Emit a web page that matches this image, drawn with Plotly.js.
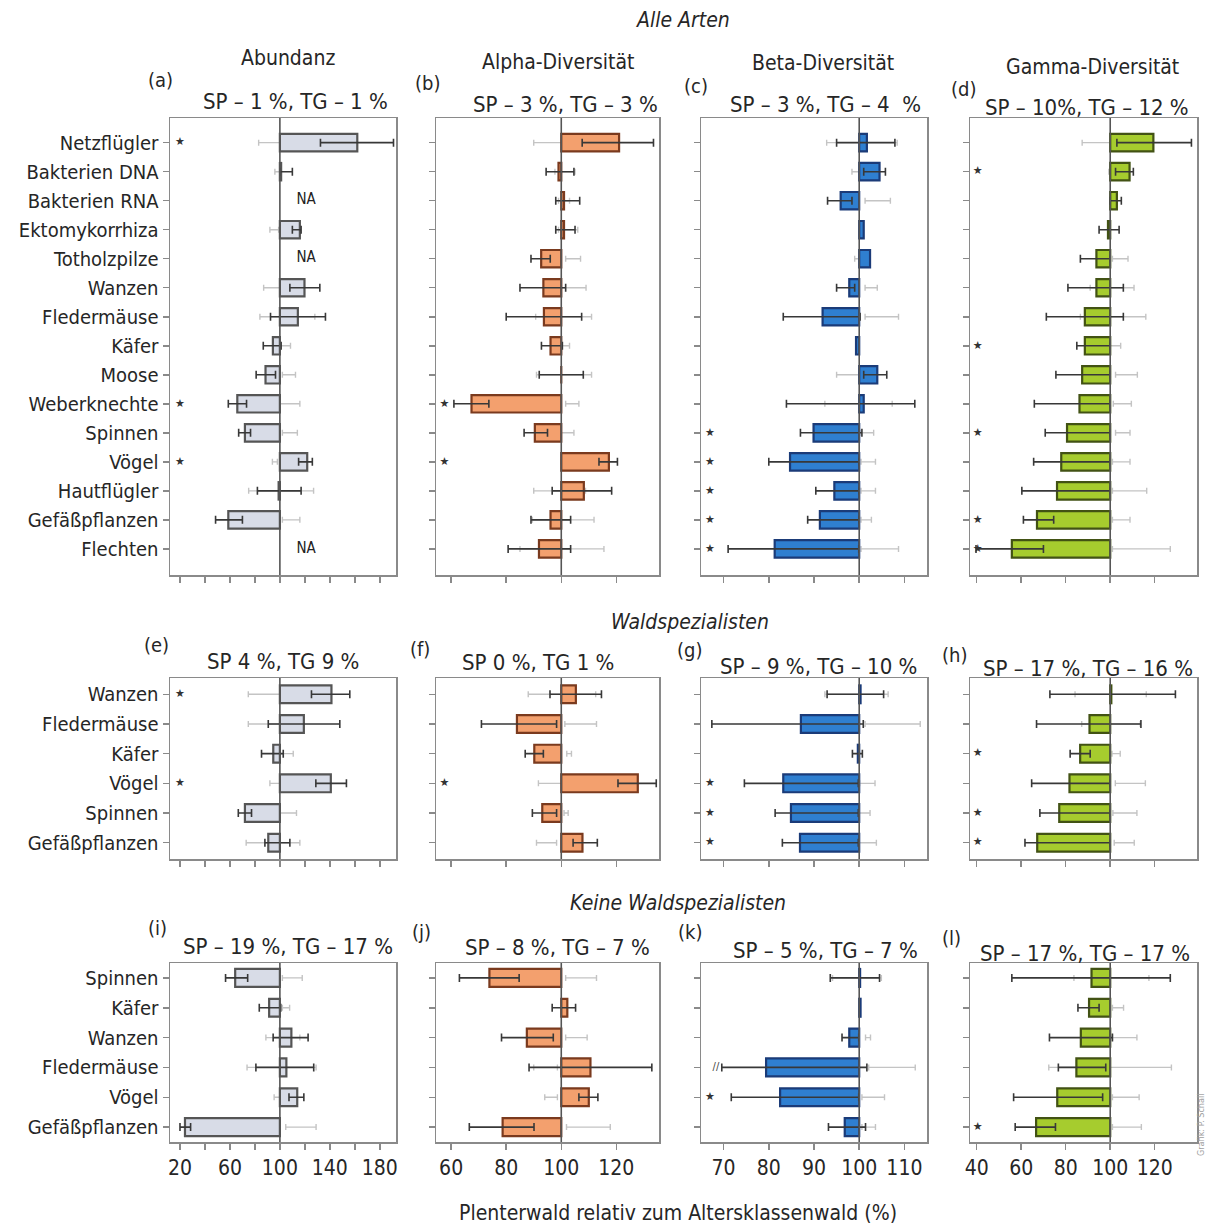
<!DOCTYPE html>
<html><head><meta charset="utf-8">
<script src="https://cdn.plot.ly/plotly-3.0.1.min.js"></script>
<style>html,body{margin:0;padding:0;background:#fff}</style>
</head><body><div id="chart" style="width:1207px;height:1230px"></div>
<script>
// ---------- categories ----------
const catsAll = ['Netzflügler','Bakterien DNA','Bakterien RNA','Ektomykorrhiza','Totholzpilze','Wanzen','Fledermäuse','Käfer','Moose','Weberknechte','Spinnen','Vögel','Hautflügler','Gefäßpflanzen','Flechten'];
const catsSpez = ['Wanzen','Fledermäuse','Käfer','Vögel','Spinnen','Gefäßpflanzen'];
const catsKeine = ['Spinnen','Käfer','Wanzen','Fledermäuse','Vögel','Gefäßpflanzen'];

// ---------- (a) Abundanz, alle Arten ----------
const a_val = [162, 101, null, 116, null, 119.7, 114.4, 94.4, 88.5, 65.9, 72, 121.9, 99, 58.7, null];
const a_lo  = [132.5, 100, null, 110, null, 108, 92.5, 86.7, 81, 58.7, 67, 115, 82, 48.5, null];
const a_hi  = [191, 110, null, 117, null, 132, 136.5, 101, 96.5, 73.3, 76.5, 126, 117, 70, null];
const a_glo = [83, 96, null, 92, null, 87, 84, 100, 102, 100, 102, 94, 75, 102, null];
const a_ghi = [103, 100, null, 99, null, 102, 128, 108.5, 112.5, 116, 114, 98, 127, 116, null];
const a_star = [1,0,0,0,0,0,0,0,0,1,0,1,0,0,0];
// ---------- (b) Alpha ----------
const b_val = [121, 99, 101, 101, 92.7, 93.5, 93.7, 96.1, 100, 67.4, 90.4, 117.3, 108.2, 96.1, 91.9];
const b_lo  = [107.6, 94.5, 98, 98, 89, 85, 80, 92.8, 92, 61, 86.5, 113.7, 96.7, 89, 80.7];
const b_hi  = [133.5, 104.6, 106.7, 105, 96, 101.6, 107.4, 100.4, 108, 73.7, 95, 120.4, 118.3, 103.4, 103.4];
const b_glo = [90, 97.7, 99, 99, 101.6, 99, 90.7, 100, 91, 101.6, 100, 100, 90, 89.5, 85];
const b_ghi = [101.6, 105, 103, 106, 107, 109, 111, 103, 111, 106.4, 104.6, 104.6, 108.8, 111.9, 115.5];
const b_star = [0,0,0,0,0,0,0,0,0,1,0,1,0,0,0];
// ---------- (c) Beta ----------
const c_val = [101.7, 104.5, 95.9, 101, 102.4, 97.8, 91.9, 99.3, 104, 101, 89.9, 84.7, 94.5, 91.3, 81.3];
const c_lo  = [95, 101, 93, null, null, 95, 83.2, null, 101, 83.9, 87, 80, 90.4, 88.6, 71];
const c_hi  = [107.9, 105.8, 98.4, null, null, 99, 100.2, null, 106.1, 112.3, 100.6, 100, 100, 100, 99.9];
const c_glo = [92.8, 98.4, 101.3, null, 99, 101.3, 101.3, null, 95, 92.4, 100.4, 100.4, 100.4, 100.4, 100.4];
const c_ghi = [108.4, 99.9, 106.9, null, 100, 104, 108.7, null, 99.9, 107.3, 103.2, 103.6, 103.6, 102.7, 108.7];
const c_star = [0,0,0,0,0,0,0,0,0,0,1,1,1,1,1];
// ---------- (d) Gamma ----------
const d_val = [119.4, 108.7, 103, 99, 93.8, 93.8, 88.6, 88.6, 87.4, 86.2, 80.6, 78, 76.1, 67.1, 55.8];
const d_lo  = [103, 102.4, 100, 95, 86.6, 81, 71.3, 85, 75.6, 65.9, 70.8, 65.6, 60.3, 61, 39.7];
const d_hi  = [136.5, 110.4, 105, 104, 100, 105.9, 105.9, 100, 100, 100, 100, 100, 100, 74.6, 70];
const d_glo = [87.4, 99.4, null, null, 101, 91, 86.6, 100, 102.4, 101.4, 102.4, 101, 101, 101, 101];
const d_ghi = [103, 103, null, null, 108, 110.7, 116, 104.7, 112.2, 109.5, 108.9, 108.9, 116.4, 108.9, 127];
const d_star = [0,1,0,0,0,0,0,1,0,0,1,0,0,1,1];
// ---------- (e)-(h) Waldspezialisten ----------
const e_val = [141.3, 119.2, 94.7, 140.8, 72, 90.7];
const e_lo  = [125.3, 90.7, 85.3, 128.8, 66.7, 88];
const e_hi  = [156, 148, 102.7, 153.3, 77.3, 108];
const e_glo = [74.7, 74.7, 100, 92, 100, 73];
const e_ghi = [105.3, 116, 110.7, 102.7, 113.3, 116];
const e_star = [1,0,0,1,0,0];
const f_val = [105.3, 83.9, 90.2, 127.8, 93.1, 107.7];
const f_lo  = [95.9, 71, 86.9, 120.6, 89.5, 104.3];
const f_hi  = [114.6, 98.3, 93.5, 134.5, 98.3, 113.1];
const f_glo = [88, 101.3, 102, 91.7, 101, 91];
const f_ghi = [112.5, 112.8, 103.7, 100.7, 102.5, 98.3];
const f_star = [0,0,0,1,0,0];
const g_val = [100.3, 87.1, 99.7, 83.2, 84.9, 86.9];
const g_lo  = [92.9, 67.4, 98.5, 74.6, 81.4, 83];
const g_hi  = [105.4, 100.9, 100.7, 99.8, 99.8, 99.8];
const g_glo = [92.4, 101.3, null, 100.1, 100, 100];
const g_ghi = [106.4, 113.5, null, 103.5, 102.4, 103.8];
const g_star = [0,0,0,1,1,1];
const h_val = [100.5, 90.7, 86.5, 81.7, 77.1, 67.2];
const h_lo  = [72.9, 66.9, 82, 64.7, 68.4, 61.7];
const h_hi  = [129.3, 113.8, 91, 100, 100, 100];
const h_glo = [84.2, 87.2, 100.8, 102.3, 101.2, 101.8];
const h_ghi = [116.2, 113.5, 104.5, 115.8, 112, 110.8];
const h_star = [0,0,1,0,1,1];
// ---------- (i)-(l) Keine Waldspezialisten ----------
const i_val = [64.2, 91.4, 109.2, 105.2, 113.9, 24];
const i_lo  = [56.5, 83.5, 94.6, 80.8, 107.3, 20];
const i_hi  = [74.2, 100.7, 122.6, 127.1, 119.2, 28.5];
const i_glo = [102, 102, 88.8, 73.7, 95.4, 104.7];
const i_ghi = [117.9, 107.8, 116, 129, 101.5, 129];
const i_star = [0,0,0,0,0,0];
const j_val = [73.9, 102.2, 87.5, 110.6, 110, 78.7];
const j_lo  = [63, 96.7, 78.3, 88.3, 106.4, 66.6];
const j_hi  = [84.7, 105.2, 97.1, 132.9, 113.3, 90.1];
const j_glo = [101.6, null, 101.6, 90, 94, 101.9];
const j_ghi = [112.8, null, 109.4, 98.6, 98.6, 117.8];
const j_star = [0,0,0,0,0,0];
const k_val = [100.2, 100.3, 97.8, 79.4, 82.5, 96.8];
const k_lo  = [93.6, null, 96.2, 69.6, 71.7, 93.2];
const k_hi  = [104.5, null, 99.9, 101.7, 99.9, 101.4];
const k_glo = [94.1, null, 101.4, 102.1, 100.6, 100.6];
const k_ghi = [104.9, null, 102.5, 112.4, 105.6, 103.6];
const k_star = [0,0,0,0,1,0];
const l_val = [91.6, 90.5, 86.8, 84.8, 76.2, 66.7];
const l_lo  = [55.8, 85.5, 72.7, 76.7, 56.6, 57.3];
const l_hi  = [127, 95, 101, 98, 96.6, 75.4];
const l_glo = [83.7, 101, 101, 72.4, 101, 101];
const l_ghi = [117.4, 106, 112, 127.5, 113, 114];
const l_star = [0,0,0,0,0,1];

const subtitles = ['SP – 1 %, TG – 1 %','SP – 3 %, TG – 3 %','SP – 3 %, TG – 4  %','SP – 10%, TG – 12 %',
  'SP 4 %, TG 9 %','SP 0 %, TG 1 %','SP – 9 %, TG – 10 %','SP – 17 %, TG – 16 %',
  'SP – 19 %, TG – 17 %','SP – 8 %, TG – 7 %','SP – 5 %, TG – 7 %','SP – 17 %, TG – 17 %'];
const letters = ['(a)','(b)','(c)','(d)','(e)','(f)','(g)','(h)','(i)','(j)','(k)','(l)'];
const colHeads = ['Abundanz','Alpha-Diversität','Beta-Diversität','Gamma-Diversität'];
const rowHeads = ['Alle Arten','Waldspezialisten','Keine Waldspezialisten'];
const xTitle = 'Plenterwald relativ zum Altersklassenwald (%)';
const colTicks = [[20,40,60,80,100,120,140,160,180],[60,80,100,120],[70,80,90,100,110],[40,60,80,100,120]];
const colTickText = [['20','','60','','100','','140','','180'],['60','80','100','120'],['70','80','90','100','110'],['40','60','80','100','120']];

// ---------- layout geometry (pixels) ----------
const W = 1207, H = 1230;
const colX = [[170,396],[436,659],[701,927],[970,1197]];
const rowY = [[118,575],[678,859],[963,1142]];
const colRange = [[12,193],[54.5,135.5],[65,115],[37,139]];
const rowYRange = [[14.9,-0.85],[5.55,-0.55],[5.5,-0.5]];
const fills = ['#d8dce7','#f3a06e','#2f7fd0','#a6cc2e'];
const edges = ['#555555','#7a3a1e','#1b3b78','#425214'];
const starX = [20,57.6,67,40.5];
const FONT = "'Liberation Sans Narrow','DejaVu Sans Condensed','Arial Narrow',sans-serif";
const TXT = '#262626';

const panels = [
  [a_val,a_lo,a_hi,a_glo,a_ghi,a_star,catsAll],
  [b_val,b_lo,b_hi,b_glo,b_ghi,b_star,catsAll],
  [c_val,c_lo,c_hi,c_glo,c_ghi,c_star,catsAll],
  [d_val,d_lo,d_hi,d_glo,d_ghi,d_star,catsAll],
  [e_val,e_lo,e_hi,e_glo,e_ghi,e_star,catsSpez],
  [f_val,f_lo,f_hi,f_glo,f_ghi,f_star,catsSpez],
  [g_val,g_lo,g_hi,g_glo,g_ghi,g_star,catsSpez],
  [h_val,h_lo,h_hi,h_glo,h_ghi,h_star,catsSpez],
  [i_val,i_lo,i_hi,i_glo,i_ghi,i_star,catsKeine],
  [j_val,j_lo,j_hi,j_glo,j_ghi,j_star,catsKeine],
  [k_val,k_lo,k_hi,k_glo,k_ghi,k_star,catsKeine],
  [l_val,l_lo,l_hi,l_glo,l_ghi,l_star,catsKeine]
];

const px = x => x / W, py = y => 1 - y / H;
const traces = [], shapes = [], annotations = [];
const layout = {
  width: W, height: H, margin: {l:0,r:0,t:0,b:0}, paper_bgcolor:'#fff', plot_bgcolor:'#fff',
  showlegend:false, barmode:'overlay', font:{family:FONT, color:TXT}
};

panels.forEach((p, k) => {
  const [val, lo, hi, glo, ghi, star, cats] = p;
  const row = Math.floor(k / 4), col = k % 4, n = k + 1;
  const xa = 'x' + n, ya = 'y' + n;
  const idx = cats.map((_, i) => i);
  // light (ghost) whiskers, drawn first
  traces.push({
    type:'bar', orientation:'h', base:100, width:0.6, xaxis:xa, yaxis:ya,
    y: idx,
    x: idx.map(i => glo[i] == null ? null : (glo[i] + ghi[i]) / 2 - 100),
    marker:{color:'rgba(0,0,0,0)', line:{width:0}},
    error_x:{type:'data', symmetric:true, array: idx.map(i => glo[i] == null ? NaN : (ghi[i] - glo[i]) / 2),
      color:'#c4c4c4', thickness:1.4, width:3},
    hoverinfo:'skip'
  });
  // main bars with dark whiskers
  traces.push({
    type:'bar', orientation:'h', base:100, width:0.6, xaxis:xa, yaxis:ya,
    y: idx,
    x: val.map(v => v == null ? null : v - 100),
    marker:{color:fills[col], line:{color:edges[col], width:2.2}},
    error_x:{type:'data', symmetric:false,
      array: idx.map(i => (hi[i] == null || val[i] == null) ? NaN : hi[i] - val[i]),
      arrayminus: idx.map(i => (lo[i] == null || val[i] == null) ? NaN : val[i] - lo[i]),
      color:'#383838', thickness:1.6, width:4},
    hoverinfo:'skip'
  });
  // significance stars
  const sIdx = idx.filter(i => star[i]);
  if (sIdx.length) traces.push({
    type:'scatter', mode:'text', xaxis:xa, yaxis:ya, cliponaxis:false,
    x: sIdx.map(() => starX[col]), y: sIdx, text: sIdx.map(() => '★'),
    textfont:{size:11, color:'#333', family:'DejaVu Sans'}, hoverinfo:'skip'
  });
  // NA labels
  const naIdx = idx.filter(i => val[i] == null);
  if (naIdx.length) traces.push({
    type:'scatter', mode:'text', xaxis:xa, yaxis:ya,
    x: naIdx.map(() => 121), y: naIdx, text: naIdx.map(() => 'NA'),
    textfont:{size:15, color:'#222', family:FONT}, hoverinfo:'skip'
  });
  // reference line at 100
  shapes.push({type:'line', xref:xa, yref: ya + ' domain', x0:100, x1:100, y0:0, y1:1,
    line:{color:'#555', width:1.6}});
  layout['xaxis' + (n === 1 ? '' : n)] = {
    domain:[px(colX[col][0]), px(colX[col][1])], range:colRange[col], anchor:ya,
    showline:true, mirror:true, linecolor:'#8a8a8a', linewidth:1.5,
    ticks:'outside', ticklen:6, tickwidth:1.5, tickcolor:'#8a8a8a',
    tickmode:'array', tickvals:colTicks[col], ticktext:colTickText[col],
    showticklabels: row === 2, showgrid:false, zeroline:false, fixedrange:true,
    tickfont:{size:21, color:TXT, family:FONT}
  };
  layout['yaxis' + (n === 1 ? '' : n)] = {
    domain:[py(rowY[row][1]), py(rowY[row][0])], range:rowYRange[row], anchor:xa,
    showline:true, mirror:true, linecolor:'#8a8a8a', linewidth:1.5,
    ticks:'outside', ticklen:6, tickwidth:1.5, tickcolor:'#8a8a8a',
    tickmode:'array', tickvals:idx, ticktext:cats,
    showticklabels: col === 0, showgrid:false, zeroline:false, fixedrange:true,
    tickfont:{size:20, color:TXT, family:FONT}
  };
});

// "//" mark in panel (k), Fledermäuse row
traces.push({type:'scatter', mode:'text', xaxis:'x11', yaxis:'y11', x:[68.3], y:[3],
  text:['//'], textfont:{size:11, color:'#444', family:FONT}, hoverinfo:'skip'});

// ---------- text annotations ----------
function ann(text, x, y, size, opts) {
  annotations.push(Object.assign({text, x:px(x), y:py(y), xref:'paper', yref:'paper',
    showarrow:false, xanchor:'center', yanchor:'middle',
    font:{size, color:TXT, family:FONT}}, opts || {}));
}
const subPos = [[295,101],[565,104],[825,104],[1087,108],[283,661],[538,662],[818,666],[1088,668],[288,946],[557,947],[825,950],[1085,953]];
const letPos = [[160,80],[427,83],[696,86],[963,89],[156,645],[420,649],[690,650],[954,655],[158,928],[421,932],[690,932],[952,938]];
subtitles.forEach((s, i) => ann(s, subPos[i][0], subPos[i][1], 22));
letters.forEach((s, i) => ann(s, letPos[i][0], letPos[i][1], 20));
const headPos = [[288,58],[558,62],[823,63],[1092,67]];
colHeads.forEach((s, i) => ann(s, headPos[i][0], headPos[i][1], 21));
const rowHeadPos = [[683,20],[690,622],[678,903]];
rowHeads.forEach((s, i) => ann('<i>' + s + '</i>', rowHeadPos[i][0], rowHeadPos[i][1], 21));
ann(xTitle, 678, 1213, 21);
ann('Grafik: P. Schall', 1201, 1125, 9, {textangle:-90, font:{size:9, color:'#a0a0a0', family:FONT}});

layout.shapes = shapes;
layout.annotations = annotations;
Plotly.newPlot('chart', traces, layout, {staticPlot:true});
</script>
</body></html>
